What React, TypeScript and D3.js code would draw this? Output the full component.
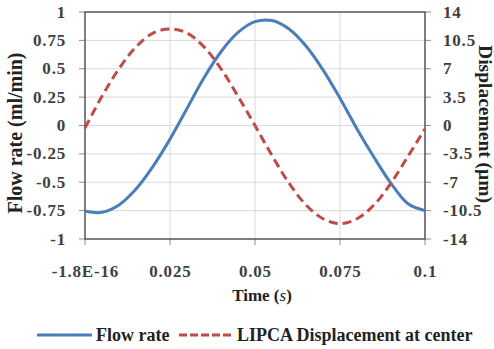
import React from "react";
import * as d3 from "d3";

const times = [0, 0.005, 0.01, 0.015, 0.02, 0.025, 0.03, 0.035, 0.04, 0.045, 0.05, 0.055, 0.06, 0.065, 0.07, 0.075, 0.08, 0.085, 0.09, 0.095, 0.1];
const flowRate = [-0.755, -0.765, -0.70, -0.56, -0.36, -0.12, 0.15, 0.42, 0.65, 0.82, 0.915, 0.925, 0.85, 0.70, 0.49, 0.24, -0.03, -0.28, -0.51, -0.69, -0.75];
const displacement = [-0.3, 3.6, 7.0, 9.7, 11.4, 11.9, 11.4, 9.7, 7.0, 3.6, 0, -3.7, -7.1, -9.8, -11.5, -12.1, -11.5, -9.8, -7.1, -3.8, -0.4];
const xTicks = [0, 0.025, 0.05, 0.075, 0.1];
const xTickLabels = ["-1.8E-16", "0.025", "0.05", "0.075", "0.1"];
const leftTicks = [-1, -0.75, -0.5, -0.25, 0, 0.25, 0.5, 0.75, 1];
const rightTicks = [-14, -10.5, -7, -3.5, 0, 3.5, 7, 10.5, 14];
const seriesNames = ["Flow rate", "LIPCA Displacement at center"];

export default function App() {
  const W = 494, H = 349;
  const L = 85, R = 425, T = 12, B = 239;
  const x = d3.scaleLinear().domain([0, 0.1]).range([L, R]);
  const yL = d3.scaleLinear().domain([-1, 1]).range([B, T]);
  const yR = d3.scaleLinear().domain([-14, 14]).range([B, T]);
  const lineFlow = d3.line<number>().x((_, i) => x(times[i])).y((d) => yL(d)).curve(d3.curveCatmullRom);
  const lineDisp = d3.line<number>().x((_, i) => x(times[i])).y((d) => yR(d)).curve(d3.curveCatmullRom);
  const blue = "#4A7EBB";
  const red = "#BE4B48";
  const fs = { fontFamily: "'Liberation Serif', serif", fontWeight: "bold" as const };
  const tick = { ...fs, letterSpacing: "0.8px" };
  return (
    <svg width={W} height={H} style={{ position: "absolute", left: 0, top: 0, background: "#fff" }}>
      {leftTicks.map((t) => (
        <line key={"gh" + t} x1={L} x2={R} y1={yL(t)} y2={yL(t)} stroke="#d9d9d9" strokeWidth={1} />
      ))}
      {xTicks.map((t) => (
        <line key={"gv" + t} x1={x(t)} x2={x(t)} y1={T} y2={B} stroke="#d9d9d9" strokeWidth={1} />
      ))}
      {leftTicks.map((t) => (
        <line key={"tl" + t} x1={L - 6} x2={L} y1={yL(t)} y2={yL(t)} stroke="#8c8c8c" strokeWidth={1} />
      ))}
      {rightTicks.map((t) => (
        <line key={"tr" + t} x1={R} x2={R + 6} y1={yR(t)} y2={yR(t)} stroke="#8c8c8c" strokeWidth={1} />
      ))}
      {xTicks.map((t) => (
        <line key={"tx" + t} x1={x(t)} x2={x(t)} y1={B} y2={B + 6} stroke="#8c8c8c" strokeWidth={1} />
      ))}
      <rect x={L} y={T} width={R - L} height={B - T} fill="none" stroke="#595959" strokeWidth={1.5} />
      <path d={lineFlow(flowRate) || ""} fill="none" stroke={blue} strokeWidth={3} />
      <path d={lineDisp(displacement) || ""} fill="none" stroke={red} strokeWidth={3} strokeDasharray="9,5" />
      {leftTicks.map((t) => (
        <text key={"ll" + t} x={66} y={yL(t)} textAnchor="end" dominantBaseline="central" fontSize={17} fill="#404040" style={tick}>{String(t)}</text>
      ))}
      {rightTicks.map((t) => (
        <text key={"rl" + t} x={443} y={yR(t)} textAnchor="start" dominantBaseline="central" fontSize={17} fill="#404040" style={tick}>{String(t)}</text>
      ))}
      {xTicks.map((t, i) => (
        <text key={"xl" + t} x={x(t) + 0.4} y={271} textAnchor="middle" dominantBaseline="central" fontSize={17} fill="#404040" style={tick}>{xTickLabels[i]}</text>
      ))}
      <text x={262} y={295} textAnchor="middle" dominantBaseline="central" fontSize={17} fill="#222" style={fs}>
        Time (<tspan style={{ fontStyle: "italic", fontWeight: "normal" }}>s</tspan>)
      </text>
      <text transform={`translate(15,133) rotate(-90)`} textAnchor="middle" dominantBaseline="central" fontSize={20} fill="#222" style={fs}>Flow rate (ml/min)</text>
      <text transform={`translate(485,124) rotate(90)`} textAnchor="middle" dominantBaseline="central" fontSize={19.5} fill="#222" style={fs}>Displacement (μm)</text>
      <line x1={37} x2={92} y1={335} y2={335} stroke={blue} strokeWidth={3} />
      <text x={96} y={335} dominantBaseline="central" fontSize={18} fill="#222" style={fs}>{seriesNames[0]}</text>
      <line x1={179} x2={234} y1={335} y2={335} stroke={red} strokeWidth={3} strokeDasharray="8,3" />
      <text x={237} y={335} dominantBaseline="central" fontSize={18} fill="#222" style={fs}>{seriesNames[1]}</text>
    </svg>
  );
}
